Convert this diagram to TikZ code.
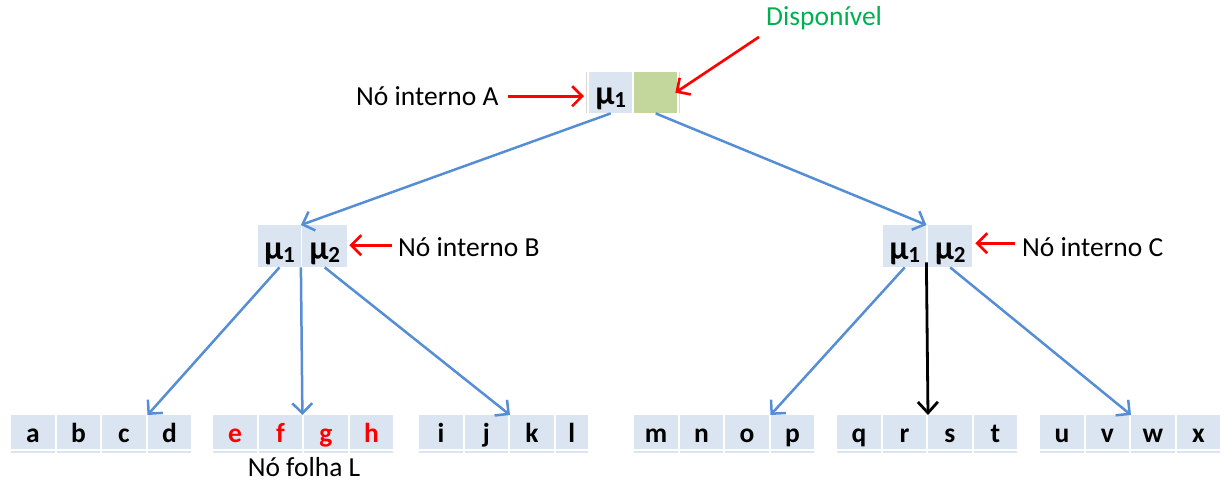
\documentclass[tikz,border=0pt]{standalone}
\usepackage{fontspec}
\setmainfont{Carlito}
\usetikzlibrary{arrows.meta}

\definecolor{cellfill}{HTML}{DBE5F1}
\definecolor{freefill}{HTML}{C3D69B}
\definecolor{linkblue}{HTML}{558ED5}
\definecolor{pointred}{HTML}{FF0000}
\definecolor{labelgreen}{HTML}{00B050}

\tikzset{
  x=1pt, y=-1pt,
  leafcell/.style={fill=cellfill, minimum width=43.5pt, minimum height=34pt,
    inner sep=0pt, text height=27pt, text depth=7pt, anchor=north west,
    font=\fontsize{27.5}{30}\selectfont\bfseries},
  keycell/.style={fill=cellfill, minimum height=41pt, inner sep=0pt,
    text height=32pt, text depth=9pt, anchor=north west,
    font=\fontsize{34}{36}\selectfont\bfseries},
  freecell/.style={keycell, fill=freefill},
  note/.style={inner sep=0pt, anchor=west, font=\fontsize{27.5}{30}\selectfont},
  link/.style={draw=linkblue, line width=2.5pt,
    -{Straight Barb[length=10pt,width=20pt]}},
  redptr/.style={draw=pointred, line width=2.6pt,
    -{Straight Barb[length=10pt,width=20pt]}},
  blackptr/.style={draw=black, line width=2.8pt,
    -{Straight Barb[length=11pt,width=20pt]}},
  underline/.style={draw=cellfill, line width=1.2pt},
  edgeline/.style={draw=black!15, line width=0.6pt},
}

\newcommand{\mukey}[1]{μ{\fontsize{23}{23}\selectfont\raisebox{-3pt}{#1}}}

\begin{document}
\begin{tikzpicture}
\useasboundingbox (0,0) rectangle (1224,483);

% root node A
\node[keycell, minimum width=43pt] (A1) at (589,72) {\mukey{1}};
\node[freecell, minimum width=43pt] (A2) at (634,72) {};
\draw[edgeline] (586,72) -- (586,113);
\draw[edgeline] (679,72) -- (679,113);

% internal nodes B and C
\node[keycell, minimum width=42.5pt, minimum height=42pt, text height=34pt, text depth=8pt] (B1) at (258,225) {\mukey{1}};
\node[keycell, minimum width=45pt, minimum height=42pt, text height=34pt, text depth=8pt] (B2) at (302,225) {\mukey{2}};
\node[keycell, minimum width=43pt, minimum height=42pt, text height=34pt, text depth=8pt] (C1) at (883,225) {\mukey{1}};
\node[keycell, minimum width=44pt, minimum height=42pt, text height=34pt, text depth=8pt] (C2) at (928,225) {\mukey{2}};

% leaves
\node[leafcell] (a) at (11,415) {a};
\node[leafcell] (b) at (56.5,415) {b};
\node[leafcell] (c) at (102,415) {c};
\node[leafcell] (d) at (147.5,415) {d};

\node[leafcell, text=pointred] (e) at (213,415) {e};
\node[leafcell, text=pointred] (f) at (258.5,415) {f};
\node[leafcell, text=pointred] (g) at (304,415) {g};
\node[leafcell, text=pointred] (h) at (349.5,415) {h};

\node[leafcell] (i) at (419,415) {i};
\node[leafcell] (j) at (464.5,415) {j};
\node[leafcell] (k) at (510,415) {k};
\node[leafcell, minimum width=32pt] (l) at (555.5,415) {l};

\node[leafcell] (m) at (634,415) {m};
\node[leafcell] (n) at (679.5,415) {n};
\node[leafcell] (o) at (725,415) {o};
\node[leafcell] (p) at (770.5,415) {p};

\node[leafcell] (q) at (837,415) {q};
\node[leafcell] (r) at (882.5,415) {r};
\node[leafcell] (s) at (928,415) {s};
\node[leafcell] (t) at (973.5,415) {t};

\node[leafcell] (u) at (1040,415) {u};
\node[leafcell] (v) at (1085.5,415) {v};
\node[leafcell] (w) at (1131,415) {w};
\node[leafcell] (x) at (1176.5,415) {x};

% thin rule under every leaf cell
\foreach \c in {a,b,c,d,e,f,g,h,i,j,k,l,m,n,o,p,q,r,s,t,u,v,w,x}
  \draw[underline] ([yshift=-2.5pt]\c.south west) -- ([yshift=-2.5pt]\c.south east);

% labels
\node[note] (labA) at (356,96) {Nó interno A};
\node[note, text=labelgreen] (disp) at (766,18) {Disponível};
\node[note] (labB) at (398,247) {Nó interno B};
\node[note] (labC) at (1022,247) {Nó interno C};
\node[font=\fontsize{27.5}{30}\selectfont, inner sep=0pt] (folha) at (304,467) {Nó folha L};

% tree links
\draw[link] (A1.south) -- (B1.north east);
\draw[link] (A2.south) -- (C1.north east);
\draw[link] (B1.south) -- (d.north west);
\draw[link] (B1.south east) -- (f.north east);
\draw[link] (B2.south) -- (k.north west);
\draw[link] (C1.south) -- (p.north west);
\draw[blackptr] ([yshift=5pt]C1.south east) -- (s.north west);
\draw[link] (C2.south) -- (w.north west);

% pointers from the labels
\coordinate (tipA) at ([yshift=-3.5pt]A1.west);
\draw[redptr, shorten <=9pt, shorten >=5pt] (labA.east |- tipA) -- (tipA);
\draw[redptr] ([xshift=-7pt,yshift=-7pt]disp.south west) -- ([xshift=-2pt]A2.east);
\coordinate (tipB) at ([yshift=1pt]B2.east);
\draw[redptr, shorten <=6pt, shorten >=2pt] (labB.west |- tipB) -- (tipB);
\coordinate (tipC) at ([yshift=3pt]C2.east);
\draw[redptr, shorten <=7pt, shorten >=3pt] (labC.west |- tipC) -- (tipC);
\end{tikzpicture}
\end{document}
